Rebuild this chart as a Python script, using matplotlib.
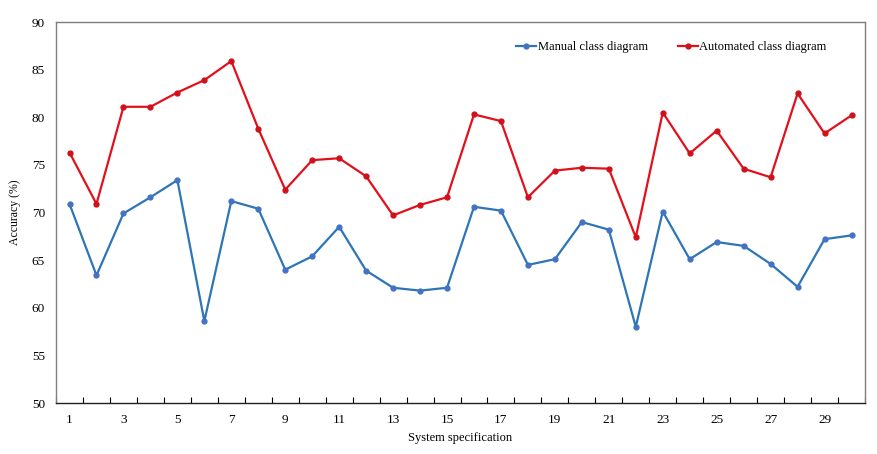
import matplotlib
matplotlib.use("Agg")
import matplotlib.pyplot as plt
from matplotlib.ticker import MultipleLocator, FixedLocator

plt.rcParams["font.family"] = ["Liberation Serif", "DejaVu Serif"]

# 数据
spec = list(range(1, 31))
manual = [70.9, 63.4, 69.9, 71.6, 73.4, 58.6, 71.2, 70.4, 64.0, 65.4,
          68.5, 63.9, 62.1, 61.8, 62.1, 70.6, 70.2, 64.5, 65.1, 69.0,
          68.2, 58.0, 70.1, 65.1, 66.9, 66.5, 64.6, 62.2, 67.2, 67.6]
automated = [76.3, 70.9, 81.1, 81.1, 82.6, 83.9, 85.9, 78.8, 72.4, 75.5,
             75.7, 73.8, 69.7, 70.8, 71.6, 80.3, 79.6, 71.6, 74.4, 74.7,
             74.6, 67.4, 80.5, 76.2, 78.6, 74.6, 73.7, 82.5, 78.3, 80.2]
xtick_labels = [str(i) for i in range(1, 31, 2)]

fig = plt.figure(figsize=(8.77, 4.54), dpi=100)
ax = fig.add_axes([0.0639, 0.1123, 0.9224, 0.8392])

ax.plot(spec, manual, color="#2E75B6", lw=1.6, marker="o", ms=3.5,
        mfc="#4472C4", mec="#4472C4", label="Manual class diagram")
ax.plot(spec, automated, color="#E3101C", lw=1.6, marker="o", ms=3.5,
        mfc="#D0101A", mec="#D0101A", label="Automated class diagram")

ax.set_xlim(0.5, 30.5)
ax.set_ylim(50, 90)
ax.yaxis.set_major_locator(MultipleLocator(5))
ax.set_xticks(range(1, 31, 2))
ax.set_xticklabels(xtick_labels)
ax.xaxis.set_minor_locator(FixedLocator([i + 0.5 for i in range(0, 31)]))

ax.tick_params(axis="x", which="major", length=0, labelsize=9.5, pad=8)
ax.tick_params(axis="x", which="minor", length=4, direction="in", width=0.8)
ax.tick_params(axis="y", length=0, labelsize=9.5, pad=8)

for s in ["top", "right", "left"]:
    ax.spines[s].set_color("#7f7f7f")
    ax.spines[s].set_linewidth(1.0)
ax.spines["bottom"].set_color("#222222")
ax.spines["bottom"].set_linewidth(1.0)

ax.set_xlabel("System specification", fontsize=9, labelpad=4)
ax.set_ylabel("Accuracy (%)", fontsize=8.5, labelpad=8)

ax.legend(loc="upper right", bbox_to_anchor=(0.958, 0.962), borderaxespad=0,
          ncol=2, frameon=False, fontsize=9, handlelength=1.6,
          handletextpad=0.1, columnspacing=2.4)

fig.savefig("out.png", dpi=100)
